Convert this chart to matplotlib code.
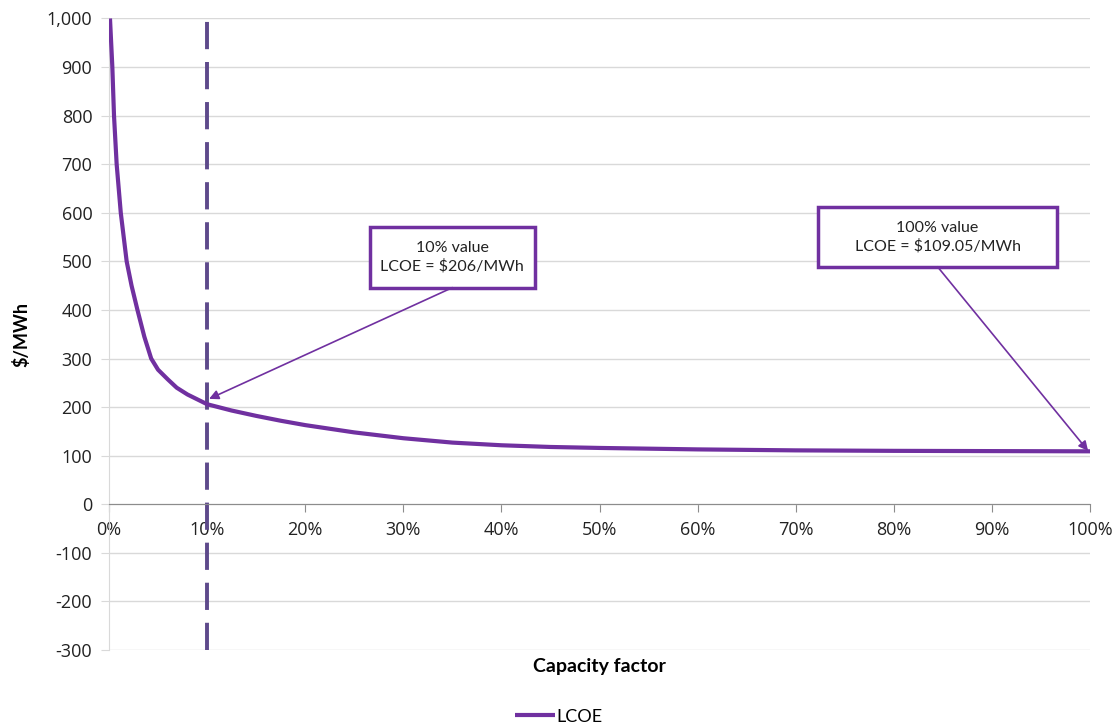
import matplotlib.pyplot as plt
from matplotlib.patches import Rectangle
from matplotlib.ticker import FuncFormatter, MultipleLocator

plt.rcParams['font.family'] = ['Lato', 'DejaVu Sans']

# Levelised cost of energy against capacity factor
capacity_factor = [0.001, 0.0034, 0.0051, 0.0078, 0.012, 0.018, 0.023, 0.029, 0.036, 0.043,
                   0.050, 0.060, 0.069, 0.080, 0.10, 0.125, 0.15, 0.175, 0.20, 0.25,
                   0.30, 0.35, 0.40, 0.45, 0.50, 0.60, 0.70, 0.80, 0.90, 1.00]
lcoe = [1000, 900, 800, 700, 600, 500, 450, 400, 345, 300,
        277, 257, 240, 226, 206, 193, 182, 172, 163, 148,
        136, 127, 121.5, 118, 116, 113, 111, 110, 109.5, 109.05]

marker_cf = 0.10

purple = '#7030A0'
dash_purple = '#5E4A8B'
grid_grey = '#D9D9D9'

fig = plt.figure(figsize=(11.18, 7.25), dpi=100)
ax = fig.add_axes([0.0975, 0.1034, 0.8775, 0.8711])

ax.plot(capacity_factor, lcoe, color=purple, lw=3, label='LCOE', solid_capstyle='butt', zorder=3)
ax.axvline(marker_cf, color=dash_purple, lw=2.8, dashes=(7, 3.3), zorder=2)

ax.set_xlim(0, 1)
ax.set_ylim(-300, 1000)
ax.xaxis.set_major_locator(MultipleLocator(0.1))
ax.yaxis.set_major_locator(MultipleLocator(100))
ax.xaxis.set_major_formatter(FuncFormatter(lambda v, p: f'{v * 100:.0f}%'))
ax.yaxis.set_major_formatter(FuncFormatter(lambda v, p: f'{v:,.0f}'))

ax.grid(axis='y', color=grid_grey, lw=1)
ax.set_axisbelow(True)
for side in ['top', 'right']:
    ax.spines[side].set_visible(False)
ax.spines['left'].set_color(grid_grey)
ax.spines['bottom'].set_position(('data', 0))
ax.spines['bottom'].set_color('#8C8C8C')
ax.tick_params(axis='x', direction='out', length=6, color='#8C8C8C', labelsize=13,
               pad=6, labelcolor='#222222', labelfontfamily='Open Sans')
ax.tick_params(axis='y', length=6, color=grid_grey, labelsize=13, pad=6,
               labelcolor='#222222', labelfontfamily='Open Sans')

ax.set_ylabel('$/MWh', fontsize=13, fontweight='bold', labelpad=12)
ax.set_xlabel('Capacity factor', fontsize=14, fontweight='bold')
ax.xaxis.set_label_coords(0.5, -0.012)

# Callout boxes with arrows to the curve
callouts = [
    (0.266, 0.434, 446, 570, '10% value\nLCOE = $206/MWh', (0.102, 217)),
    (0.7227, 0.9664, 489, 611, '100% value\nLCOE = $109.05/MWh', (0.998, 110)),
]
for x0, x1, y0, y1, text, tip in callouts:
    ax.add_patch(Rectangle((x0, y0), x1 - x0, y1 - y0, facecolor='white',
                           edgecolor=purple, lw=2.5, zorder=4))
    ax.text((x0 + x1) / 2, (y0 + y1) / 2, text, ha='center', va='center',
            fontsize=11.5, linespacing=1.35, color='#222222', zorder=5)
    ax.annotate('', xy=tip, xytext=((x0 + x1) / 2, y0),
                arrowprops=dict(arrowstyle='-|>', color=purple, lw=1.2,
                                mutation_scale=14, shrinkA=0, shrinkB=0), zorder=4)

fig.legend(loc='lower center', bbox_to_anchor=(0.5, -0.022), frameon=False,
           fontsize=13, handlelength=2.2, handletextpad=0.1)

fig.savefig('out.png', dpi=100)
